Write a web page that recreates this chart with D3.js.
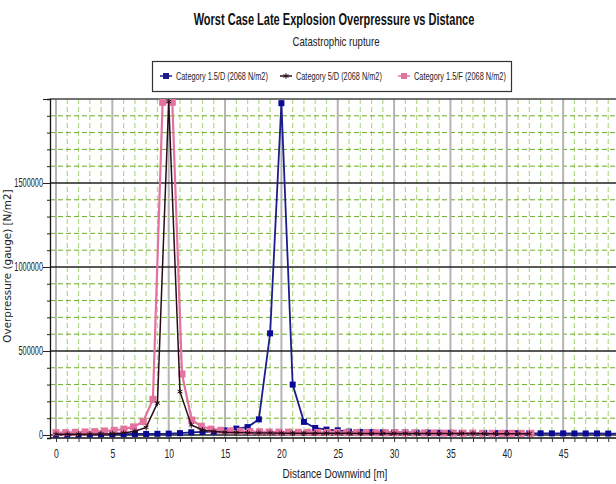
<!DOCTYPE html>
<html lang="en">
  <head>
    <meta charset="UTF-8" />
    <title>Worst Case Late Explosion Overpressure vs Distance</title>
    <style>
      body {
        margin: 0;
        background: #ffffff;
      }
      svg {
        display: block;
      }
      .narrow {
        font-family: "Liberation Sans", Arial, sans-serif;
      }
    </style>
  </head>
  <body>
    <svg width="616" height="484"></svg>
    <script src="https://d3js.org/d3.v7.min.js"></script>
    <script>
      // Category 1.5/D (2068 N/m2)
      const blueX = [0, 1, 2, 3, 4, 5, 6, 7, 8, 9, 10, 11, 12, 13, 14, 15, 16, 17, 18, 19, 20,
        21, 22, 23, 24, 25, 26, 27, 28, 29, 30, 31, 32, 33, 34, 35, 36, 37, 38, 39, 40,
        41, 42, 43, 44, 45, 46, 47, 48, 49, 50];
      const blueY = [3000, 3000, 3000, 4000, 4000, 5000, 5000, 6000, 6000, 7000, 8000,
        11000, 16000, 18000, 19000, 27000, 38000, 47000, 93000, 605000, 1975000,
        300000, 78000, 42000, 32000, 28000, 20000, 18000, 17000, 16000, 15000,
        15000, 14000, 14000, 13000, 13000, 12000, 12000, 12000, 11000, 11000,
        11000, 10000, 10000, 9500, 9500, 9000, 9000, 9000, 8500, 8500];

      // Category 5/D (2068 N/m2)
      const blackX = [0, 1, 2, 3, 4, 5, 6, 7, 8, 9, 10, 11, 12, 13, 14, 15, 16, 17, 18, 19, 20,
        21, 22, 23, 24, 25, 26, 27, 28, 29, 30, 31, 32, 33, 34, 35, 36, 37, 38, 39, 40, 41, 42];
      const blackY = [4000, 4000, 5000, 5000, 6000, 8000, 12000, 22000, 45000, 190000, 1985000,
        258000, 60000, 30000, 20000, 16000, 14000, 13000, 12000, 12000, 11000,
        11000, 11000, 10000, 10000, 10000, 10000, 9500, 9500, 9500, 9000, 9000,
        9000, 9000, 8500, 8500, 8500, 8500, 8000, 8000, 8000, 8000, 8000];

      // Category 1.5/F (2068 N/m2)
      const pinkX = [0, 0.86, 1.72, 2.58, 3.44, 4.3, 5.16, 6.02, 6.88, 7.74, 8.6, 9.46, 10.32,
        11.18, 12.04, 12.9, 13.76, 14.62, 15.48, 16.34, 17.2, 18.06, 18.92, 19.78, 20.64,
        21.5, 22.36, 23.22, 24.08, 24.94, 25.8, 26.66, 27.52, 28.38, 29.24, 30.1, 30.96,
        31.82, 32.68, 33.54, 34.4, 35.26, 36.12, 36.98, 37.84, 38.7, 39.56, 40.42, 41.28, 42.14];
      const pinkY = [14000, 14000, 16000, 18000, 20000, 24000, 28000, 35000, 48000, 80000,
        212000, 1980000, 1980000, 363000, 89000, 52000, 35000, 28000, 25000, 22000,
        20000, 19000, 18000, 17000, 17000, 16000, 16000, 15000, 15000, 15000,
        14000, 14000, 14000, 13000, 13000, 13000, 12000, 12000, 12000, 12000,
        11000, 11000, 11000, 11000, 10000, 10000, 10000, 10000, 10000, 10000];

      const seriesNames = ["Category 1.5/D (2068 N/m2)", "Category 5/D (2068 N/m2)", "Category 1.5/F (2068 N/m2)"];
      const yTickLabels = [0, 500000, 1000000, 1500000];
      const xTickLabels = [0, 5, 10, 15, 20, 25, 30, 35, 40, 45];

      const svg = d3.select("svg");
      const plot = { left: 50, right: 616, top: 99, bottom: 438 };

      const x = d3.scaleLinear().domain([0, 50]).range([56, 619.5]);
      const y = d3.scaleLinear().domain([-18000, 2000000]).range([plot.bottom, plot.top]);

      // squeeze a text horizontally to the narrow look of the original
      function fit(sel, target) {
        sel.each(function (d, i) {
          const w = this.getComputedTextLength();
          if (!w) return;
          const goal = typeof target === "function" ? target(this.textContent, i) : target;
          const tx = +this.getAttribute("x") || 0;
          const ty = +this.getAttribute("y") || 0;
          d3.select(this).attr("x", 0).attr("y", 0)
            .attr("transform", `translate(${tx},${ty}) scale(${goal / w},1)`);
        });
      }

      svg.append("defs").append("clipPath").attr("id", "clip")
        .append("rect")
        .attr("x", plot.left).attr("y", plot.top)
        .attr("width", plot.right - plot.left).attr("height", plot.bottom - plot.top);

      // grid
      const grid = svg.append("g");
      const xMinor = d3.range(0, 50, 1).filter((v) => v % 5 !== 0);
      const xMajor = d3.range(0, 50, 5);
      const yMinor = d3.range(0, 2000001, 100000).filter((v) => v % 500000 !== 0);
      const yMajor = d3.range(0, 2000001, 500000);

      grid.selectAll(".vminor").data(xMinor).join("line")
        .attr("x1", (d) => x(d)).attr("x2", (d) => x(d))
        .attr("y1", plot.top).attr("y2", plot.bottom)
        .attr("stroke", "#b3d98c").attr("stroke-width", 1.2)
        .attr("stroke-dasharray", "5,3");
      grid.selectAll(".hminor").data(yMinor).join("line")
        .attr("x1", plot.left).attr("x2", plot.right)
        .attr("y1", (d) => y(d)).attr("y2", (d) => y(d))
        .attr("stroke", "#6cab24").attr("stroke-width", 1)
        .attr("stroke-dasharray", "5,3");
      grid.selectAll(".vmajor").data(xMajor).join("line")
        .attr("x1", (d) => x(d)).attr("x2", (d) => x(d))
        .attr("y1", plot.top).attr("y2", plot.bottom)
        .attr("stroke", "#b4b4b4").attr("stroke-width", 2);
      grid.selectAll(".hmajor").data(yMajor).join("line")
        .attr("x1", plot.left).attr("x2", plot.right)
        .attr("y1", (d) => y(d)).attr("y2", (d) => y(d))
        .attr("stroke", (d) => (d === 2000000 ? "#444" : "#222")).attr("stroke-width", 1.3);

      // axes
      const yAxis = d3.axisLeft(y)
        .tickValues(d3.range(0, 2000001, 100000))
        .tickSize(3)
        .tickFormat((d) => (yTickLabels.includes(d) ? d : ""));
      const gy = svg.append("g").attr("transform", `translate(${plot.left},0)`).call(yAxis);
      gy.select(".domain").attr("stroke", "#111").attr("stroke-width", 1.3);
      gy.selectAll(".tick line").attr("stroke", "#222");
      gy.selectAll(".tick").filter((d) => d % 500000 === 0).select("line").attr("x2", -7);
      gy.selectAll(".tick text").attr("class", "narrow").attr("x", -7)
        .attr("font-size", 12).attr("fill", "#222")
        .attr("font-family", "Liberation Sans, Arial, sans-serif")
        .call(fit, (t) => t.length * 4.1);

      const xAxis = d3.axisBottom(x)
        .tickValues(d3.range(0, 50, 1))
        .tickSize(4)
        .tickFormat((d) => (xTickLabels.includes(d) ? d : ""));
      const gx = svg.append("g").attr("transform", `translate(0,${plot.bottom})`).call(xAxis);
      gx.select(".domain").attr("d", `M${plot.left},0H${plot.right}`)
        .attr("stroke", "#111").attr("stroke-width", 1.5);
      gx.selectAll(".tick line").attr("stroke", "#333");
      gx.selectAll(".tick text").attr("class", "narrow").attr("y", 11)
        .attr("font-size", 12).attr("fill", "#222")
        .attr("font-family", "Liberation Sans, Arial, sans-serif")
        .call(fit, (t) => t.length * 4.8);

      // series
      const lines = svg.append("g").attr("clip-path", "url(#clip)");
      const lineGen = d3.line().x((d) => x(d[0])).y((d) => y(d[1]));

      const blue = d3.zip(blueX, blueY);
      const black = d3.zip(blackX, blackY);
      const pink = d3.zip(pinkX, pinkY);

      lines.append("path").datum(blue).attr("d", lineGen)
        .attr("fill", "none").attr("stroke", "#1c1c8c").attr("stroke-width", 1.8);
      lines.selectAll(".bm").data(blue).join("rect")
        .attr("x", (d) => x(d[0]) - 3).attr("y", (d) => y(d[1]) - 3)
        .attr("width", 6).attr("height", 6).attr("fill", "#0a0a96");

      lines.append("path").datum(pink).attr("d", lineGen)
        .attr("fill", "none").attr("stroke", "#e2739f").attr("stroke-width", 2.2);
      lines.selectAll(".pm").data(pink).join("rect")
        .attr("x", (d) => x(d[0]) - 3.5).attr("y", (d) => y(d[1]) - 3.5)
        .attr("width", 7).attr("height", 7).attr("fill", "#e5739f");

      lines.append("path").datum(black).attr("d", lineGen)
        .attr("fill", "none").attr("stroke", "#2a0b1c").attr("stroke-width", 1.5);
      const star = d3.symbol().type(d3.symbolAsterisk).size(22);
      lines.selectAll(".km").data(black).join("path")
        .attr("transform", (d) => `translate(${x(d[0])},${y(d[1])})`)
        .attr("d", star).attr("fill", "none").attr("stroke", "#2a0b1c").attr("stroke-width", 1);

      // titles
      svg.append("text").attr("class", "narrow")
        .attr("x", 334).attr("y", 25).attr("text-anchor", "middle")
        .attr("font-size", 17).attr("font-weight", "bold").attr("fill", "#111")
        .text("Worst Case Late Explosion Overpressure vs Distance")
        .call(fit, 281);
      svg.append("text").attr("class", "narrow")
        .attr("x", 336).attr("y", 46).attr("text-anchor", "middle")
        .attr("font-size", 12).attr("fill", "#222")
        .text("Catastrophic rupture")
        .call(fit, 87);

      // legend
      const legend = svg.append("g");
      legend.append("rect")
        .attr("x", 152.5).attr("y", 61.5).attr("width", 359).attr("height", 30)
        .attr("fill", "#fff").attr("stroke", "#333").attr("stroke-width", 1.2);
      const legendX = [160, 280, 398];
      const legendColors = ["#1c1c8c", "#2a0b1c", "#e2739f"];
      seriesNames.forEach((name, i) => {
        const g = legend.append("g").attr("transform", `translate(${legendX[i]},76)`);
        g.append("line").attr("x1", 0).attr("x2", 12)
          .attr("stroke", legendColors[i]).attr("stroke-width", 1.5);
        if (i === 1) {
          g.append("path").attr("transform", "translate(6,0)")
            .attr("d", star).attr("fill", "none").attr("stroke", legendColors[i]);
        } else {
          g.append("rect").attr("x", 3).attr("y", -3).attr("width", 6).attr("height", 6)
            .attr("fill", legendColors[i]);
        }
        g.append("text").attr("class", "narrow").attr("x", 16).attr("y", 4)
          .attr("font-size", 11.5).attr("fill", "#222")
          .text(name)
          .call(fit, i === 1 ? 86 : 92);
      });

      // axis titles
      svg.append("text").attr("class", "narrow")
        .attr("x", 335).attr("y", 478).attr("text-anchor", "middle")
        .attr("font-size", 12).attr("fill", "#222")
        .text("Distance Downwind [m]")
        .call(fit, 105);
      svg.append("text")
        .attr("transform", "translate(11,266) rotate(-90)")
        .attr("text-anchor", "middle")
        .attr("font-family", "DejaVu Sans, sans-serif")
        .attr("font-size", 10.4).attr("fill", "#222")
        .text("Overpressure (gauge) [N/m2]");
    </script>
  </body>
</html>
